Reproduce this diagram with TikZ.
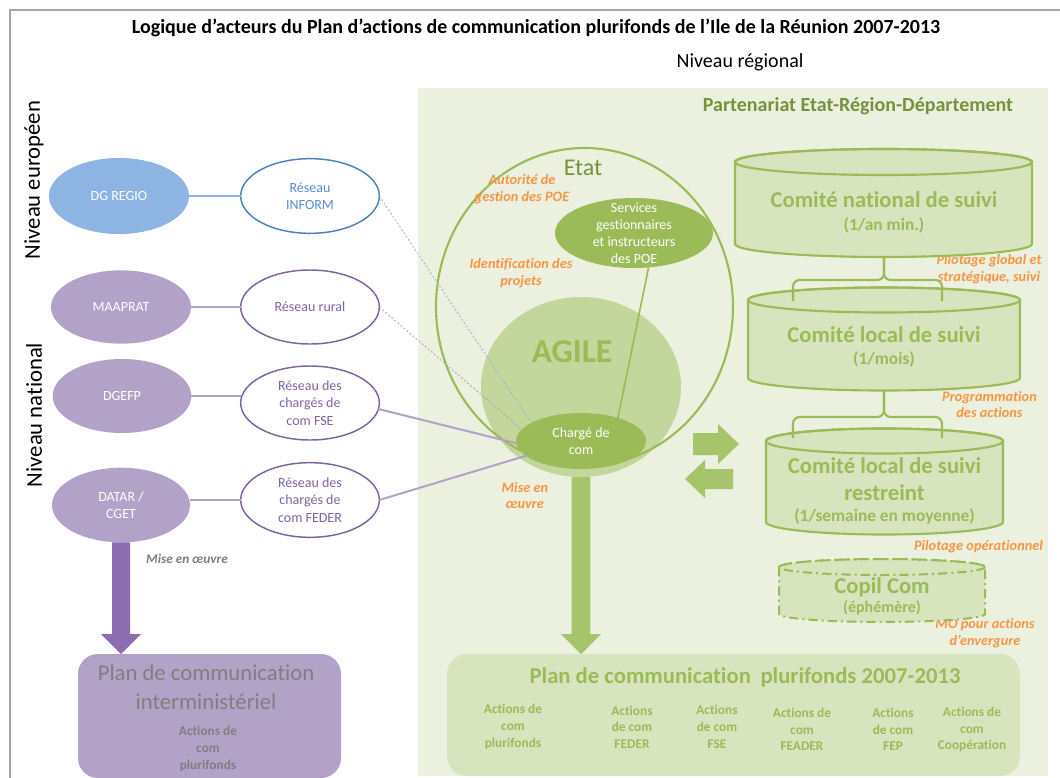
\documentclass[tikz,border=0pt]{standalone}
\usepackage{fontspec}
\setmainfont{Carlito}[Ligatures=NoCommon]
\usetikzlibrary{shapes.geometric}

\definecolor{framegray}{HTML}{A6A6A6}
\definecolor{regbg}{HTML}{EBF1DE}
\definecolor{olive}{HTML}{9BBB59}
\definecolor{olivedk}{HTML}{76923C}
\definecolor{agilefill}{HTML}{C3D69B}
\definecolor{cylfill}{HTML}{D7E4BD}
\definecolor{arrowg}{HTML}{A6C46A}
\definecolor{orangelab}{HTML}{F79646}
\definecolor{blueell}{HTML}{8DB4E2}
\definecolor{bluedk}{HTML}{4F81BD}
\definecolor{bluetxt}{HTML}{558ED5}
\definecolor{purpell}{HTML}{B3A2C7}
\definecolor{purpdk}{HTML}{8064A2}
\definecolor{purparrow}{HTML}{8C6DB0}
\definecolor{graytxt}{HTML}{7F7F7F}
\definecolor{dashgray}{HTML}{A3A3C2}

\newcommand{\fs}[2]{\fontsize{#1}{#2}\selectfont}

% cylinder: left x, right x, y of top face, y of bottom face, face half height, style
\newcommand{\drawcyl}[6]{%
  \pgfmathsetmacro{\cylrx}{(#2-#1)/2}%
  \path[#6] (#1,#3) -- (#1,#4)
     arc[start angle=180, end angle=0, x radius=\cylrx, y radius=#5]
     -- (#2,#3)
     arc[start angle=0, end angle=-180, x radius=\cylrx, y radius=#5] -- cycle;
  \path[#6, fill=none] ({(#1+#2)/2},#3) ellipse[x radius=\cylrx, y radius=#5];
}

\tikzset{
  shapeell/.style={ellipse, inner sep=0pt, outer sep=0pt},
  ringblue/.style={shapeell, draw=bluedk, line width=1.1pt, fill=white},
  ringpurple/.style={shapeell, draw=purpdk, line width=1.1pt, fill=white},
  smalltxt/.style={align=center, font=\fs{10.5}{13}},
  link/.style={line width=1.5pt},
  orangelbl/.style={align=center, text=orangelab, font=\fs{10.75}{12.5}\bfseries\itshape},
  cylstyle/.style={draw=olive, line width=1.6pt, fill=cylfill},
  copilstyle/.style={draw=olive, line width=1.5pt, fill=cylfill, dash pattern=on 7pt off 3pt on 1.5pt off 3pt},
  cyltitle/.style={text=olive, font=\fs{17}{20.25}\bfseries, align=center},
  cylsub/.style={text=olive, font=\fs{13}{15}\bfseries},
  colt/.style={text=olive, font=\fs{10}{12.5}\bfseries, align=center},
  bracestyle/.style={draw=olive, line width=1.6pt, rounded corners=5pt},
}

\begin{document}
\begin{tikzpicture}[x=0.75pt, y=-0.75pt, every node/.style={inner sep=0pt, outer sep=0pt}]
\clip (0,0) rectangle (1060,778);
\fill[white] (0,0) rectangle (1060,778);

% outer frame (top and left sides)
\draw[framegray, line width=1.5pt] (10,800) -- (10,9.5) -- (1080,9.5);

\node[font=\fs{15}{18}\bfseries] (title) at (536,28)
  {Logique d’acteurs du Plan d’actions de communication plurifonds de l’Ile de la Réunion 2007-2013};
\node[font=\fs{15}{18}] (nreg) at (740,62) {Niveau régional};

% regional partnership area
\fill[regbg] (418,88) rectangle (1048,776);
\node[font=\fs{15}{18}\bfseries, text=olivedk] (part) at (858,106) {Partenariat Etat-Région-Département};

% level labels
\node[rotate=90, font=\fs{17}{20}] (neu) at (34,180) {Niveau européen};
\node[rotate=90, font=\fs{17}{20}] (nnat) at (34,415) {Niveau national};

% actors and networks
\node[shapeell, fill=blueell, minimum width=105pt, minimum height=57pt] (dgregio) at (119,196) {};
\node[smalltxt, text=white] (dgregiot) at (dgregio) {DG REGIO};
\node[ringblue, minimum width=104pt, minimum height=56pt] (rinform) at (310,196) {};
\node[smalltxt, text=bluetxt] (rinformt) at (rinform) {Réseau\\INFORM};

\node[shapeell, fill=purpell, minimum width=105pt, minimum height=55pt] (maaprat) at (121,307) {};
\node[smalltxt, text=white] (maapratt) at (maaprat) {MAAPRAT};
\node[ringpurple, minimum width=104pt, minimum height=55.5pt] (rrural) at (310,307) {};
\node[smalltxt, text=purpdk] (rruralt) at (rrural) {Réseau rural};

\node[shapeell, fill=purpell, minimum width=104pt, minimum height=55.5pt] (dgefp) at (122,396) {};
\node[smalltxt, text=white] (dgefpt) at (dgefp) {DGEFP};
\node[ringpurple, minimum width=104pt, minimum height=55.5pt] (rfse) at (310,403) {};
\node[smalltxt, text=purpdk] (rfset) at (rfse) {Réseau des\\chargés de\\com FSE};

\node[shapeell, fill=purpell, minimum width=103.5pt, minimum height=56pt] (datar) at (121,505) {};
\node[smalltxt, text=white] (datart) at (datar) {DATAR /\\CGET};
\node[ringpurple, minimum width=104pt, minimum height=56pt] (rfeder) at (310,500) {};
\node[smalltxt, text=purpdk] (rfedert) at (rfeder) {Réseau des\\chargés de\\com FEDER};

\draw[link, blueell] (dgregio) -- (rinform);
\draw[link, purpell] (maaprat) -- (rrural);
\draw[link, purpell] (dgefp.east) -- (dgefp.east -| rfse.west);
\draw[link, purpell] (rfeder.west -| datar.east) -- (rfeder.west);

% Etat and AGILE
\node[shapeell, fill=agilefill, minimum width=150pt, minimum height=135pt] (agile) at (581,387) {};
\node[font=\fs{25}{30}\bfseries, text=olive] (agilet) at (572,352) {AGILE};
\node[shapeell, draw=olive, line width=1.6pt, minimum width=222.75pt, minimum height=238.5pt] (etat) at (584.5,307) {};
\node[font=\fs{18}{22}, text=olivedk] (etatt) at (583,168) {Etat};

% implementation arrow towards the plurifund plan
\node[fill=cylfill, rounded corners=15pt, minimum width=429.75pt, minimum height=91.5pt] (plan) at (733.5,715) {};
\path (agile.south) coordinate (ga1) (agile.south |- plan.north) coordinate (ga2);
\fill[arrowg] ([xshift=-7.1pt]ga1) -- ([xshift=-7.1pt,yshift=15pt]ga2) -- ([xshift=-15pt,yshift=15pt]ga2)
  -- (ga2) -- ([xshift=15pt,yshift=15pt]ga2) -- ([xshift=7.1pt,yshift=15pt]ga2) -- ([xshift=7.1pt]ga1) -- cycle;

\node[shapeell, fill=olive, minimum width=118.5pt, minimum height=52.5pt] (svc) at (634,233) {};
\node[align=center, text=white, font=\fs{10.5}{12.75}] (svct) at (svc) {Services\\gestionnaires\\et instructeurs\\des POE};
\node[shapeell, fill=olive, minimum width=97.5pt, minimum height=42pt] (chg) at (581,441) {};
\node[align=center, text=white, font=\fs{10.5}{12.75}] (chgt) at (chg) {Chargé de\\com};

\draw[olive, line width=1.2pt] (svc.-67) -- (chg.32);
\draw[blueell, line width=0.6pt, dash pattern=on 1.5pt off 1.5pt] (rinform.east) -- (chg.160);
\draw[dashgray, line width=0.6pt, dash pattern=on 1.5pt off 1.5pt] (rrural.east) -- (chg.169);
\draw[link, purpell] (rfse.-5) -- (chg.182);
\draw[link, purpell] (rfeder.east) -- (chg.195);

% orange role labels
\node[orangelbl] (l1) at (522,189) {Autorité de\\gestion des POE};
\node[orangelbl] (l2) at (521,273.5) {Identification des\\projets};
\node[orangelbl] (l3) at (525,495.5) {Mise en\\œuvre};
\node[orangelbl] (l4) at (989,269.5) {Pilotage global et\\stratégique, suivi};
\node[orangelbl] (l5) at (989.5,404.5) {Programmation\\des actions};
\node[orangelbl] (l6) at (978.5,547) {Pilotage opérationnel};
\node[orangelbl] (l7) at (985,633) {MO pour actions\\d’envergure};

% exchange arrows
\fill[arrowg] (693,433) -- (718,433) -- (718,424) -- (739,444) -- (718,464) -- (718,455) -- (693,455) -- cycle;
\fill[arrowg] (733,469) -- (705,469) -- (705,460) -- (685,479) -- (705,498) -- (705,489) -- (733,489) -- cycle;

% monitoring committees
\drawcyl{735}{1032}{162}{244}{13}{cylstyle}
\node[cyltitle] (c1t) at (884,200) {Comité national de suivi};
\node[cylsub] (c1s) at (884,225) {(1/an min.)};
\drawcyl{748}{1020}{300}{378}{12.5}{cylstyle}
\node[cyltitle] (c2t) at (884,335) {Comité local de suivi};
\node[cylsub] (c2s) at (884,359) {(1/mois)};
\drawcyl{766}{1003}{441}{522}{12.5}{cylstyle}
\node[cyltitle] (c3t) at (884.5,479.5) {Comité local de suivi\\restreint};
\node[cylsub] (c3s) at (884.5,516) {(1/semaine en moyenne)};
\drawcyl{779}{985}{567}{614}{8}{copilstyle}
\node[cyltitle] (c4t) at (882,587) {Copil Com};
\node[cylsub, font=\fs{12}{14}\bfseries] (c4s) at (882,608) {(éphémère)};

\coordinate (cyl1bot) at (884,257);
\coordinate (br1) at (884,280);
\draw[bracestyle] (cyl1bot) -- (br1) -- +(-91,0) -- +(-91,21);
\draw[bracestyle] (cyl1bot) -- (br1) -- +(58,0) -- +(58,21);
\coordinate (cyl2bot) at (884,390);
\coordinate (br2) at (884,417);
\draw[bracestyle] (cyl2bot) -- (br2) -- +(-91,0) -- +(-91,21);
\draw[bracestyle] (cyl2bot) -- (br2) -- +(58,0) -- +(58,21);

% plurifund plan contents
\node[font=\fs{17}{20}\bfseries, text=olive] (plant) at (745,677)
  {Plan de communication\hspace{0.2em} plurifonds 2007-2013};
\node[colt] (a1) at (513,727) {Actions de\\com\\plurifonds};
\node[colt] (a2) at (632,727) {Actions\\de com\\FEDER};
\node[colt] (a3) at (717,727) {Actions\\de com\\FSE};
\node[colt] (a4) at (802,729.5) {Actions de\\com\\FEADER};
\node[colt] (a5) at (893,729.5) {Actions\\de com\\FEP};
\node[colt] (a6) at (972,729.5) {Actions de\\com\\Coopération};

% interministerial plan
\node[fill=purpell, rounded corners=15pt, minimum width=197.25pt, minimum height=93pt] (interm) at (209.5,716) {};
\path (datar.south) coordinate (pa1) (datar.south |- interm.north) coordinate (pa2);
\fill[purparrow] ([xshift=-6.75pt]pa1) -- ([xshift=-6.75pt,yshift=15pt]pa2) -- ([xshift=-15pt,yshift=15pt]pa2)
  -- (pa2) -- ([xshift=15pt,yshift=15pt]pa2) -- ([xshift=6.75pt,yshift=15pt]pa2) -- ([xshift=6.75pt]pa1) -- cycle;
\node[font=\fs{10}{12}\bfseries\itshape, text=graytxt] (mise) at (187,559) {Mise en œuvre};
\node[align=center, font=\fs{17}{21.75}, text=graytxt] (intermt) at (206,687.5) {Plan de communication\\interministériel};
\node[align=center, font=\fs{10}{12.75}\bfseries, text=graytxt] (intermc) at (208,749) {Actions de\\com\\plurifonds};
\end{tikzpicture}
\end{document}
